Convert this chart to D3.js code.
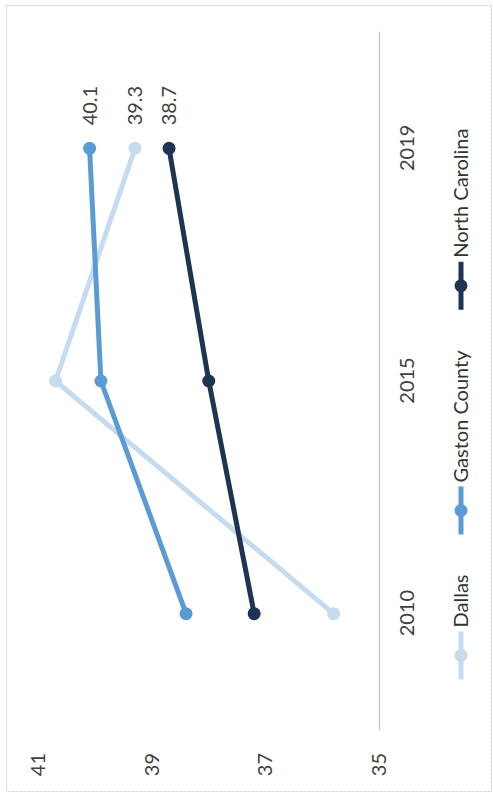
<!DOCTYPE html>
<html>
<head>
<meta charset="utf-8">
<script src="https://cdn.jsdelivr.net/npm/d3@7"></script>
<style>
  body { margin: 0; background: #fff; }
  text { font-family: Lato, "Open Sans", sans-serif; }
</style>
</head>
<body>
<svg id="drawing_region"></svg>
<script>
const years = ['2010', '2015', '2019'];
const seriesNames = ['Dallas', 'Gaston County', 'North Carolina'];
const dallas = [35.8, 40.7, 39.3];
const gaston = [38.4, 39.9, 40.1];
const northCarolina = [37.2, 38.0, 38.7];
const valueTicks = [35, 37, 39, 41];
const colors = ['#c6daf0', '#5b9bd3', '#1d3452'];

const series = [dallas, gaston, northCarolina].map((vals, i) => ({
    name: seriesNames[i],
    color: colors[i],
    values: vals.map((v, j) => ({ year: years[j], value: v }))
}));

// page is 493 x 797, chart is drawn upright as 797 x 493 then turned -90deg
const W = 797, H = 493;
const margin = {top: 38.5, right: 32, bottom: 114, left: 67};

const svg = d3.select('#drawing_region')
    .attr('width', H)
    .attr('height', W);

svg.append('rect')
    .attr('x', 6.5).attr('y', 5.5)
    .attr('width', 485).attr('height', 786)
    .attr('fill', 'none')
    .attr('stroke', '#d4d4d4')
    .attr('stroke-dasharray', '3,1');

const chart = svg.append('g')
    .attr('transform', `translate(0, ${W}) rotate(-90)`);

const xscale = d3.scalePoint()
    .domain(years)
    .range([margin.left, W - margin.right])
    .padding(0.5);

const yscale = d3.scaleLinear()
    .domain([35, 41])
    .range([H - margin.bottom, margin.top]);

// category axis
const xaxis_group = chart.append('g')
    .attr('transform', `translate(0, ${yscale(35)})`)
    .call(d3.axisBottom(xscale).tickSize(0).tickPadding(21));
xaxis_group.select('.domain').attr('stroke', '#bdbdbd').attr('stroke-width', 1);
xaxis_group.selectAll('text')
    .attr('font-size', 20)
    .attr('fill', '#404040');

// value axis (labels only)
const yaxis_group = chart.append('g')
    .attr('transform', `translate(${margin.left}, 0)`)
    .call(d3.axisLeft(yscale).tickValues(valueTicks).tickFormat(d3.format('d'))
        .tickSize(0).tickPadding(23));
yaxis_group.select('.domain').remove();
yaxis_group.selectAll('text')
    .attr('font-size', 20)
    .attr('fill', '#404040');

const line = d3.line()
    .x(d => xscale(d.year))
    .y(d => yscale(d.value));

const groups = chart.selectAll('.series')
    .data(series)
    .enter()
    .append('g')
    .attr('class', 'series');

groups.append('path')
    .attr('d', d => line(d.values))
    .attr('fill', 'none')
    .attr('stroke', d => d.color)
    .attr('stroke-width', 5)
    .attr('stroke-linejoin', 'round');

groups.selectAll('circle')
    .data(d => d.values.map(v => ({ ...v, color: d.color })))
    .enter()
    .append('circle')
    .attr('cx', d => xscale(d.year))
    .attr('cy', d => yscale(d.value))
    .attr('r', 6.5)
    .attr('fill', d => d.color);

// labels on the last point of each series
groups.append('text')
    .datum(d => d.values[d.values.length - 1])
    .attr('x', d => xscale(d.year) + 23)
    .attr('y', d => yscale(d.value))
    .attr('dy', '0.35em')
    .attr('font-size', 20)
    .attr('fill', '#404040')
    .text(d => d.value.toFixed(1));

// legend below the category labels
const legend = chart.append('g')
    .attr('transform', `translate(0, 461)`);

const items = legend.selectAll('.item')
    .data(series)
    .enter()
    .append('g')
    .attr('class', 'item');

items.append('line')
    .attr('x1', 0).attr('x2', 48)
    .attr('y1', 0).attr('y2', 0)
    .attr('stroke', d => d.color)
    .attr('stroke-width', 5);
items.append('circle')
    .attr('cx', 24).attr('cy', 0)
    .attr('r', 6.5)
    .attr('fill', d => d.color);
items.append('text')
    .attr('x', 52)
    .attr('dy', '0.35em')
    .attr('font-size', 20)
    .attr('fill', '#333')
    .text(d => d.name);

const gap = 40;
let widths = [];
items.each(function() { widths.push(this.getBBox().width); });
const total = d3.sum(widths) + gap * (widths.length - 1);
let pos = (margin.left + W - margin.right) / 2 - total / 2 - 23;
items.attr('transform', (d, i) => {
    const t = `translate(${pos}, 0)`;
    pos += widths[i] + gap;
    return t;
});
</script>
</body>
</html>
